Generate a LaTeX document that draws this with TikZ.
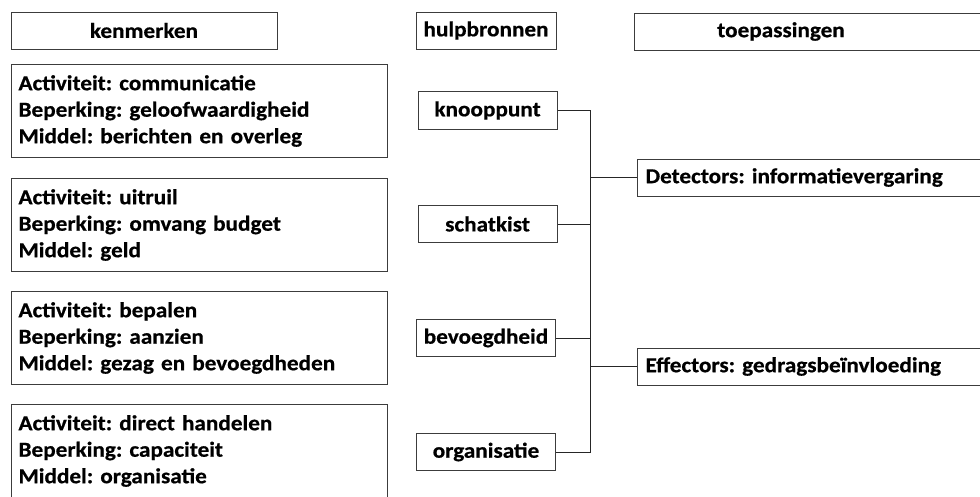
\documentclass[tikz,border=0pt]{standalone}
\usepackage{fontspec}
\setmainfont{Carlito}[FakeStretch=1.09, FakeBold=0.6]
\definecolor{edge}{HTML}{3C3C3C}
\newcommand{\boxfont}{\bfseries\fontsize{21.3}{26.5}\selectfont\frenchspacing\spaceskip=0.2em plus 0.05em}
\begin{document}
\begin{tikzpicture}[x=1pt,y=-1pt,
  txt/.style={font=\boxfont, text=black},
  box/.style={draw=edge, line width=1pt, txt, inner sep=0pt},
  title/.style={box, minimum height=37pt},
  kbox/.style={box, anchor=north west, minimum width=376pt, minimum height=93pt,
     text width=362pt, align=left},
  hbox/.style={box, minimum width=139pt, minimum height=37.5pt},
  tbox/.style={box, anchor=west, minimum width=360pt, minimum height=37pt,
     text width=344pt, align=left},
  conn/.style={draw=black!85, line width=1pt}]
\useasboundingbox (0,0) rectangle (980,496);
\clip (0,0) rectangle (980,496);
\fill[white] (0,0) rectangle (980,496);
% titles
\node[title, minimum width=266pt] (ken) at (144,30.5) {kenmerken};
\node[title, minimum width=140pt] (hulp) at (486,30.5) {hulpbronnen};
\node[title, minimum width=361pt, anchor=north west] (toep) at (634,13) {};
\node[txt] (toeptxt) at (781,31.5) {toepassingen};
% kenmerken boxes
\node[kbox] (k1) at (11,64) {Activiteit: communicatie\\Beperking: geloofwaardigheid\\Middel: berichten en overleg};
\node[kbox] (k2) at (11,178) {Activiteit: uitruil\\Beperking: omvang budget\\Middel: geld};
\node[kbox] (k3) at (11,291) {Activiteit: bepalen\\Beperking: aanzien\\Middel: gezag en bevoegdheden};
\node[kbox] (k4) at (11,404) {Activiteit: direct handelen\\Beperking: capaciteit\\Middel: organisatie};
% hulpbronnen
\node[hbox] (kn) at (487.5,110.5) {knooppunt};
\node[hbox] (sk) at (487.5,224) {schatkist};
\node[hbox] (bv) at (486,338) {bevoegdheid};
\node[hbox] (og) at (486,452) {organisatie};
% toepassingen
\node[tbox] (det) at (637,177.5) {Detectors: informatievergaring};
\node[tbox] (eff) at (637,366.5) {Effectors: gedragsbeïnvloeding};
% connectors
\coordinate (bus) at (590,0);
\draw[conn] (kn.east) -| (bus |- og.east) -- (og.east);
\draw[conn] (sk.east) -- (sk.east -| bus);
\draw[conn] (bv.east) -- (bv.east -| bus);
\draw[conn] (det.west -| bus) -- (det.west);
\draw[conn] (eff.west -| bus) -- (eff.west);
\end{tikzpicture}
\end{document}
